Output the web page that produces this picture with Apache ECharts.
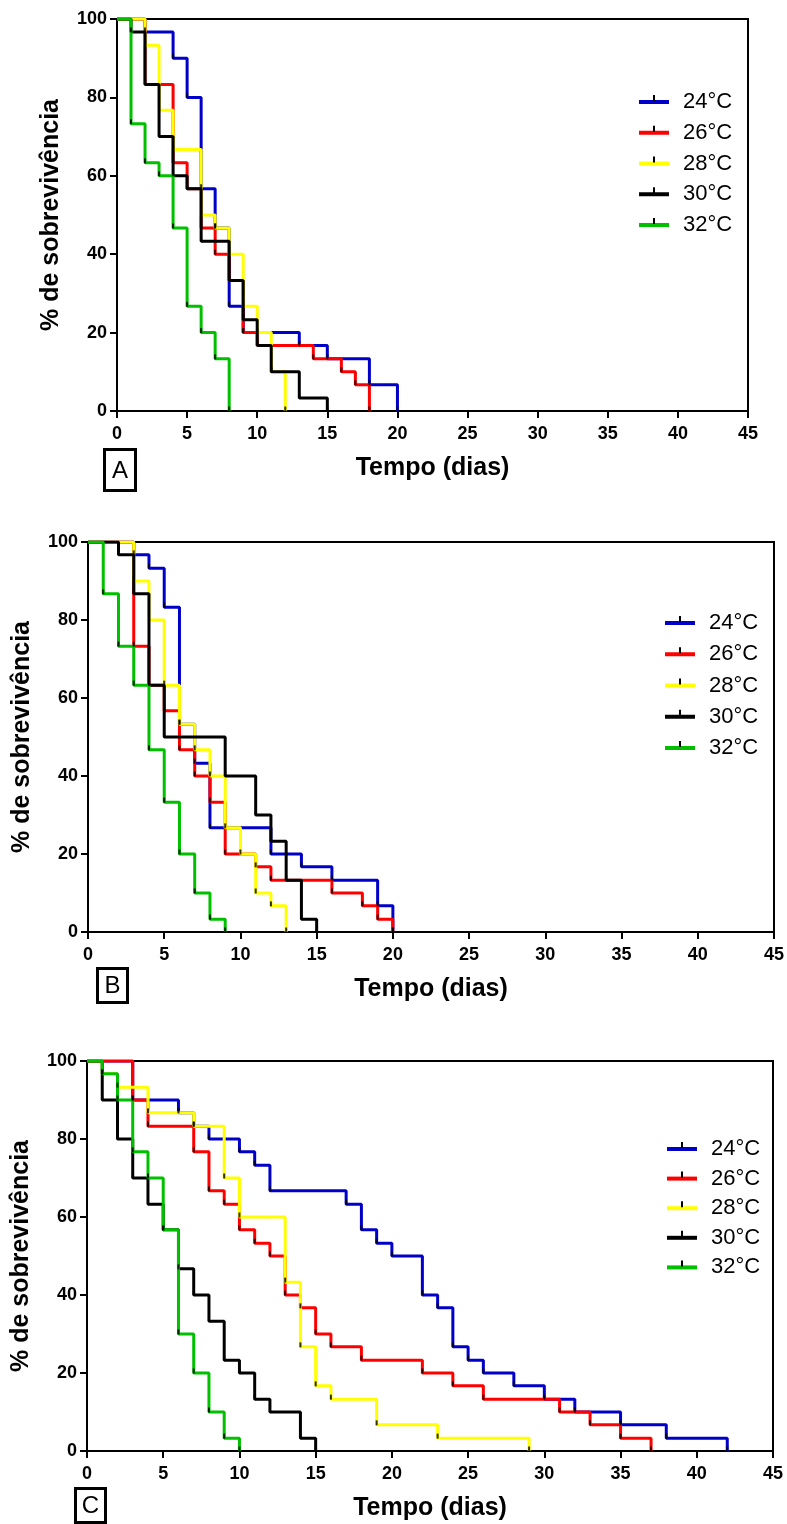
<!DOCTYPE html>
<html>
<head>
<meta charset="utf-8">
<script src="https://cdn.jsdelivr.net/npm/echarts@6/dist/echarts.min.js"></script>
<style>
html,body{margin:0;padding:0;background:#fff;}
#chart{width:787px;height:1524px;}
</style>
</head>
<body>
<div id="chart"></div>
<script>
// ---- data (day, % survival) ----
const temps = ['24°C', '26°C', '28°C', '30°C', '32°C'];
const xTicks = [0, 5, 10, 15, 20, 25, 30, 35, 40, 45];
const yTicks = [0, 20, 40, 60, 80, 100];
const panelLabels = ['A', 'B', 'C'];

// Panel A
const A24 = [[0,100],[2,96.7],[4,90],[5,80],[6,56.7],[7,46.7],[8,26.7],[9,20],[13,16.7],[15,13.3],[18,6.7],[20,0]];
const A26 = [[0,100],[2,83.3],[4,63.3],[5,56.7],[6,46.7],[7,40],[8,33.3],[9,20],[10,16.7],[14,13.3],[16,10],[17,6.7],[18,0]];
const A28 = [[0,100],[2,93.3],[3,76.7],[4,66.7],[6,50],[7,46.7],[8,40],[9,26.7],[10,20],[11,10],[12,0]];
const A30 = [[0,100],[1,96.7],[2,83.3],[3,70],[4,60],[5,56.7],[6,43.3],[8,33.3],[9,23.3],[10,16.7],[11,10],[13,3.3],[15,0]];
const A32 = [[0,100],[1,73.3],[2,63.3],[3,60],[4,46.7],[5,26.7],[6,20],[7,13.3],[8,0]];

// Panel B
const B24 = [[0,100],[3,96.7],[4,93.3],[5,83.3],[6,53.3],[7,43.3],[8,26.7],[12,20],[14,16.7],[16,13.3],[19,6.7],[20,0]];
const B26 = [[0,100],[3,73.3],[4,63.3],[5,56.7],[6,46.7],[7,40],[8,33.3],[9,20],[11,16.7],[12,13.3],[16,10],[18,6.7],[19,3.3],[20,0]];
const B28 = [[0,100],[3,90],[4,80],[5,63.3],[6,53.3],[7,46.7],[8,40],[9,26.7],[10,20],[11,10],[12,6.7],[13,0]];
const B30 = [[0,100],[2,96.7],[3,86.7],[4,63.3],[5,50],[9,40],[11,30],[12,23.3],[13,13.3],[14,3.3],[15,0]];
const B32 = [[0,100],[1,86.7],[2,73.3],[3,63.3],[4,46.7],[5,33.3],[6,20],[7,10],[8,3.3],[9,0]];

// Panel C
const C24 = [[0,100],[3,90],[6,86.7],[7,83.3],[8,80],[10,76.7],[11,73.3],[12,66.7],[17,63.3],[18,56.7],[19,53.3],[20,50],[22,40],[23,36.7],[24,26.7],[25,23.3],[26,20],[28,16.7],[30,13.3],[32,10],[35,6.7],[38,3.3],[42,0]];
const C26 = [[0,100],[3,90],[4,83.3],[7,76.7],[8,66.7],[9,63.3],[10,56.7],[11,53.3],[12,50],[13,40],[14,36.7],[15,30],[16,26.7],[18,23.3],[22,20],[24,16.7],[26,13.3],[31,10],[33,6.7],[35,3.3],[37,0]];
const C28 = [[0,100],[1,96.7],[2,93.3],[4,86.7],[7,83.3],[9,70],[10,60],[13,43.3],[14,26.7],[15,16.7],[16,13.3],[19,6.7],[23,3.3],[29,0]];
const C30 = [[0,100],[1,90],[2,80],[3,70],[4,63.3],[5,56.7],[6,46.7],[7,40],[8,33.3],[9,23.3],[10,20],[11,13.3],[12,10],[14,3.3],[15,0]];
const C32 = [[0,100],[1,96.7],[2,90],[3,76.7],[4,70],[5,56.7],[6,30],[7,20],[8,10],[9,3.3],[10,0]];

const panelsData = [[A24,A26,A28,A30,A32],[B24,B26,B28,B30,B32],[C24,C26,C28,C30,C32]];

// ---- styling / layout ----
const colors = ['#0000c8', '#ff0000', '#ffff00', '#000000', '#00c000'];
const FONT = '"Liberation Sans", Arial, sans-serif';
const grids = [
  {left: 117, top: 19, width: 631, height: 392},
  {left: 88, top: 542, width: 688, height: 390},
  {left: 87, top: 1061, width: 686, height: 390}
];
const legendPos = [
  {left: 639, top: 91, gap: 8.75},
  {left: 665, top: 612, gap: 9.25},
  {left: 667, top: 1138, gap: 7.6}
];
const boxes = [
  {x: 104.5, y: 449.5, w: 31, h: 41},
  {x: 97.5, y: 968.5, w: 30, h: 34},
  {x: 75.5, y: 1488.5, w: 30, h: 34}
];

const option = {
  animation: false,
  backgroundColor: '#fff',
  textStyle: {fontFamily: FONT},
  grid: grids.map(g => Object.assign({show: true, borderColor: '#000', borderWidth: 2, backgroundColor: 'transparent', containLabel: false}, g)),
  xAxis: grids.map((g, i) => ({
    type: 'value', gridIndex: i, min: 0, max: 45, interval: 5,
    name: 'Tempo (dias)', nameLocation: 'middle', nameGap: 45,
    nameTextStyle: {fontSize: 25, fontWeight: 'bold', color: '#000', fontFamily: FONT},
    axisLine: {show: true, onZero: false, lineStyle: {color: '#000', width: 2}},
    axisTick: {show: true, length: 7, lineStyle: {color: '#000', width: 2}},
    axisLabel: {fontSize: 18, fontWeight: 'bold', color: '#000', margin: 14, fontFamily: FONT,
      formatter: v => xTicks.includes(v) ? String(v) : ''},
    splitLine: {show: false}
  })),
  yAxis: grids.map((g, i) => ({
    type: 'value', gridIndex: i, min: 0, max: 100, interval: 20,
    name: '% de sobrevivência', nameLocation: 'middle', nameGap: 53,
    nameTextStyle: {fontSize: 25, fontWeight: 'bold', color: '#000', fontFamily: FONT},
    axisLine: {show: true, onZero: false, lineStyle: {color: '#000', width: 2}},
    axisTick: {show: true, length: 7, lineStyle: {color: '#000', width: 2}},
    axisLabel: {fontSize: 18, fontWeight: 'bold', color: '#000', margin: 10, fontFamily: FONT,
      formatter: v => yTicks.includes(v) ? String(v) : ''},
    splitLine: {show: false}
  })),
  legend: legendPos.map(p => ({
    orient: 'vertical', left: p.left, top: p.top, itemGap: p.gap, padding: 0,
    itemWidth: 30, itemHeight: 4, icon: 'rect', data: temps, selectedMode: false,
    textStyle: {fontSize: 22, lineHeight: 22, color: '#000', fontFamily: FONT, padding: [0, 0, 0, 9]}
  })),
  series: [],
  graphic: []
};

panelsData.forEach((panel, pi) => {
  panel.forEach((d, ti) => {
    option.series.push({
      name: temps[ti], type: 'line', xAxisIndex: pi, yAxisIndex: pi,
      data: d, step: 'end', showSymbol: false, symbol: 'none',
      lineStyle: {color: colors[ti], width: 3}, itemStyle: {color: colors[ti]},
      z: 2 + ti * 0.01, silent: true
    });
  });
  panel.forEach((d, ti) => {
    option.series.push({
      type: 'scatter', xAxisIndex: pi, yAxisIndex: pi,
      data: d.slice(1), symbol: 'rect', symbolSize: [2, 5], symbolOffset: [0, -2],
      itemStyle: {color: '#000'}, z: 3, silent: true
    });
  });
});

// panel letter boxes
boxes.forEach((b, i) => {
  option.graphic.push({
    type: 'rect', shape: {x: b.x, y: b.y, width: b.w, height: b.h},
    style: {fill: 'none', stroke: '#000', lineWidth: 3}, silent: true
  });
  option.graphic.push({
    type: 'text', x: b.x + b.w / 2, y: b.y + b.h / 2 + 1,
    style: {text: panelLabels[i], fontSize: 24, fontFamily: FONT, fill: '#000', align: 'center', verticalAlign: 'middle'},
    silent: true
  });
});

// legend censor ticks
legendPos.forEach(p => {
  temps.forEach((t, k) => {
    const cy = p.top + 10 + k * (22 + p.gap);
    option.graphic.push({
      type: 'rect', shape: {x: p.left + 14, y: cy - 6, width: 2, height: 6},
      style: {fill: '#000'}, z: 100, silent: true
    });
  });
});

const chart = echarts.init(document.getElementById('chart'), null, {renderer: 'canvas'});
chart.setOption(option);
</script>
</body>
</html>
